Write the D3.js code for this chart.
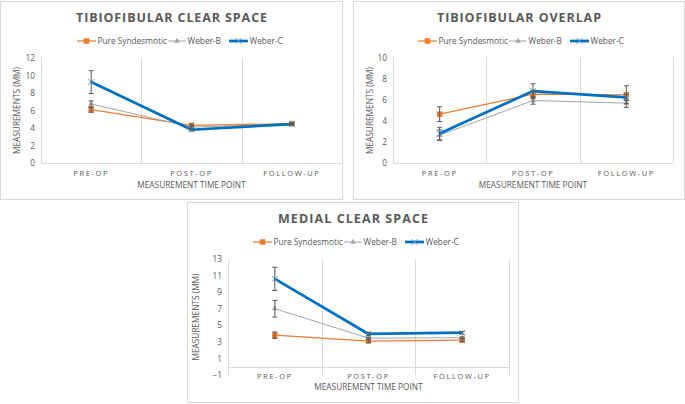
<!DOCTYPE html>
<html><head><meta charset="utf-8">
<script src="https://cdn.jsdelivr.net/npm/d3@7"></script>
<style>
html,body{margin:0;padding:0;background:#fff;}
svg text{font-family:"Open Sans","Liberation Sans",sans-serif;}
</style></head>
<body><svg id="c" width="685" height="404"></svg>
<script>
const categories = ["PRE-OP", "POST-OP", "FOLLOW-UP"];
const seriesNames = ["Pure Syndesmotic", "Weber-B", "Weber-C"];

// Tibiofibular clear space
const tcsPure = [6.1, 4.3, 4.5];
const tcsWeberB = [6.75, 4.1, 4.45];
const tcsWeberC = [9.25, 3.8, 4.45];
const tcsErrPure = [0.3, 0.15, 0.1];
const tcsErrWeberB = [0.35, 0.15, 0.1];
const tcsErrWeberC = [1.3, 0.15, 0.1];
const tcsTicks = [0, 2, 4, 6, 8, 10, 12];

// Tibiofibular overlap
const toPure = [4.65, 6.55, 6.5];
const toWeberB = [2.65, 5.95, 5.7];
const toWeberC = [2.8, 6.85, 6.25];
const toErrPure = [0.7, 0.3, 0.85];
const toErrWeberB = [0.5, 0.35, 0.4];
const toErrWeberC = [0.6, 0.7, 0.3];
const toTicks = [0, 2, 4, 6, 8, 10];

// Medial clear space
const mcsPure = [3.8, 3.1, 3.2];
const mcsWeberB = [7.0, 3.45, 3.5];
const mcsWeberC = [10.6, 3.95, 4.1];
const mcsErrPure = [0.4, 0.15, 0.15];
const mcsErrWeberB = [1.0, 0.1, 0.1];
const mcsErrWeberC = [1.4, 0.2, 0.15];
const mcsTicks = [-1, 1, 3, 5, 7, 9, 11, 13];

const panels = [
  {title:"TIBIOFIBULAR CLEAR SPACE", titleW:191, box:[0,1,343,200], plot:[41,58,342,163], domain:[0,12], ticks:tcsTicks,
   vals:[tcsPure,tcsWeberB,tcsWeberC], errs:[tcsErrPure,tcsErrWeberB,tcsErrWeberC], legendX:77,
   ylabX:17, catY:176, xtitleY:188},
  {title:"TIBIOFIBULAR OVERLAP", titleW:164, box:[353,1,685,200], plot:[393,58,673,163], domain:[0,10], ticks:toTicks,
   vals:[toPure,toWeberB,toWeberC], errs:[toErrPure,toErrWeberB,toErrWeberC], legendX:418,
   ylabX:370, catY:176, xtitleY:188},
  {title:"MEDIAL CLEAR SPACE", titleW:150, box:[187,202,519,403], plot:[228,259,509,375], domain:[-1,13], ticks:mcsTicks,
   vals:[mcsPure,mcsWeberB,mcsWeberC], errs:[mcsErrPure,mcsErrWeberB,mcsErrWeberC], legendX:253,
   ylabX:196, catY:379, xtitleY:390}
];

const colors = ["#ED7D31", "#A5A5A5", "#0070C0"];
const widths = [1.25, 1, 2.75];
const txt = "#595959";
const svg = d3.select("#c");

panels.forEach(p => {
  const g = svg.append("g");
  const [bx0,by0,bx1,by1] = p.box;
  g.append("rect").attr("x",bx0+0.5).attr("y",by0+0.5).attr("width",bx1-bx0-1).attr("height",by1-by0-1)
    .attr("fill","#fff").attr("stroke","#d9d9d9");
  const cx = (bx0+bx1)/2;
  g.append("text").attr("x",cx - p.titleW/2).attr("y",by0+21)
    .attr("font-size",12.5).attr("font-weight","bold").attr("fill",txt)
    .attr("textLength",p.titleW).attr("lengthAdjust","spacing").text(p.title);

  // legend
  const ly = by0+40;
  const legOff = [0, 91, 152];
  const legLen = [19, 18, 19];
  seriesNames.forEach((n,i) => {
    const lx = p.legendX + legOff[i];
    g.append("line").attr("x1",lx).attr("x2",lx+legLen[i]).attr("y1",ly).attr("y2",ly)
      .attr("stroke",colors[i]).attr("stroke-width",widths[i]);
    drawMarker(g, i, lx+legLen[i]/2, ly);
    g.append("text").attr("x",lx+legLen[i]+1.5).attr("y",ly+3).attr("font-size",8.3).attr("fill",txt).text(n);
  });

  const [px0,py0,px1,py1] = p.plot;
  const x = d3.scaleBand().domain(categories).range([px0,px1]);
  const y = d3.scaleLinear().domain(p.domain).range([py1,py0]);

  // vertical gridlines at band edges
  const edges = categories.map(c => x(c)).concat([px1]);
  g.selectAll(".vg").data(edges).enter().append("line")
    .attr("x1",d=>Math.round(d)+0.5).attr("x2",d=>Math.round(d)+0.5).attr("y1",py0).attr("y2",py1)
    .attr("stroke","#d9d9d9").attr("stroke-width",1);
  // horizontal axis line at 0
  g.append("line").attr("x1",px0).attr("x2",px1).attr("y1",Math.round(y(0))+0.5).attr("y2",Math.round(y(0))+0.5)
    .attr("stroke","#d9d9d9").attr("stroke-width",1);

  // y axis
  const ya = d3.axisLeft(y).tickValues(p.ticks).tickSize(0).tickPadding(6);
  const yg = g.append("g").attr("transform",`translate(${px0},0)`).call(ya);
  yg.select(".domain").remove();
  yg.selectAll("text").attr("font-size",8.3).attr("fill",txt).style("font-family","'Open Sans',sans-serif");

  // x axis labels
  const xa = d3.axisBottom(x).tickSize(0).tickPadding(0);
  const xg = g.append("g").attr("transform",`translate(0,${p.catY})`).call(xa);
  xg.select(".domain").remove();
  xg.selectAll("text").attr("dy",0).attr("y",0).attr("font-size",7.5).attr("fill",txt).attr("letter-spacing",1.6)
    .style("font-family","'Open Sans',sans-serif");

  g.append("text").attr("x",(px0+px1)/2).attr("y",p.xtitleY).attr("text-anchor","middle")
    .attr("font-size",8.3).attr("fill",txt).text("MEASUREMENT TIME POINT");
  g.append("text").attr("transform",`translate(${p.ylabX+3},${(py0+py1)/2}) rotate(-90)`)
    .attr("text-anchor","middle").attr("font-size",8.3).attr("fill",txt).text("MEASUREMENTS (MM)");

  const cxf = c => x(c) + x.bandwidth()/2;
  p.vals.forEach((vals,i) => {
    const line = d3.line().x((d,k)=>cxf(categories[k])).y(d=>y(d));
    g.append("path").datum(vals).attr("d",line).attr("fill","none")
      .attr("stroke",colors[i]).attr("stroke-width",widths[i]).attr("stroke-linejoin","round");
    vals.forEach((v,k) => drawMarker(g, i, cxf(categories[k]), y(v)));
  });
  // error bars
  p.vals.forEach((vals,i) => {
    vals.forEach((v,k) => {
      const e = p.errs[i][k];
      const xx = cxf(categories[k]);
      const eg = g.append("g").attr("stroke","#595959").attr("stroke-width",1);
      eg.append("line").attr("x1",xx).attr("x2",xx).attr("y1",y(v+e)).attr("y2",y(v-e));
      eg.append("line").attr("x1",xx-2.5).attr("x2",xx+2.5).attr("y1",y(v+e)).attr("y2",y(v+e));
      eg.append("line").attr("x1",xx-2.5).attr("x2",xx+2.5).attr("y1",y(v-e)).attr("y2",y(v-e));
    });
  });
});

function drawMarker(g, i, cx, cy) {
  if (i === 0) {
    g.append("rect").attr("x",cx-2.8).attr("y",cy-2.8).attr("width",5.6).attr("height",5.6).attr("fill","#ED7D31");
  } else if (i === 1) {
    g.append("path").attr("d",d3.symbol(d3.symbolTriangle,14)()).attr("transform",`translate(${cx},${cy})`).attr("fill","#A5A5A5");
  } else {
    g.append("path").attr("d",`M${cx-3},${cy-3}L${cx+3},${cy+3}M${cx-3},${cy+3}L${cx+3},${cy-3}`)
      .attr("stroke","#5B9BD5").attr("stroke-width",1);
  }
}
</script></body></html>
